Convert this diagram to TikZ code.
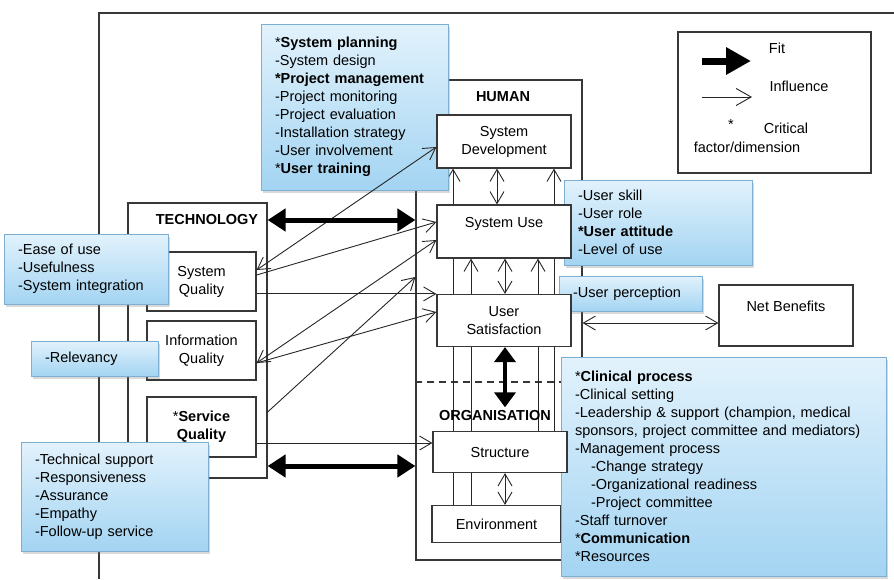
\documentclass[tikz,border=0pt]{standalone}
\usepackage{fontspec}
\setmainfont{Liberation Sans}
\usetikzlibrary{arrows.meta,positioning,shadows,backgrounds}

\definecolor{lineGray}{RGB}{55,55,55}
\definecolor{noteTop}{RGB}{226,242,252}
\definecolor{noteBottom}{RGB}{163,212,242}
\definecolor{noteLine}{RGB}{125,175,210}

\begin{document}
\begin{tikzpicture}[x=1pt,y=-1pt,on grid,
    font=\fontsize{14.5}{18}\selectfont,
    frame/.style={draw=lineGray,line width=1.2pt},
    box/.style={draw=lineGray,line width=1.2pt,fill=white,align=center,inner sep=0pt},
    note/.style={draw=noteLine,line width=0.8pt,top color=noteTop,bottom color=noteBottom,
        drop shadow={shadow xshift=2pt,shadow yshift=-3pt,opacity=0.3},
        align=left,inner xsep=14pt,inner ysep=0pt},
    head/.style={font=\fontsize{14.5}{18}\selectfont\bfseries},
    infl/.style={draw=black!85,line width=0.9pt,-{Straight Barb[length=12pt,width=14pt]}},
    infl2/.style={draw=black!85,line width=0.9pt,{Straight Barb[length=12pt,width=14pt]}-{Straight Barb[length=12pt,width=14pt]}},
    fitarr/.style={draw=black,line width=5pt,{Triangle[length=18pt,width=22pt]}-{Triangle[length=18pt,width=22pt]}},
    vfitarr/.style={draw=black,line width=4pt,{Triangle[length=15pt,width=21pt]}-{Triangle[length=15pt,width=21pt]}}]
    \useasboundingbox (0,0) rectangle (894,579);

    \begin{scope}[on background layer]
    \draw[frame] (99,579) -- (99,13) -- (894,13);
    \node[frame,minimum width=139pt,minimum height=275pt] (tech)  at (197.5,340.5) {};
    \node[frame,minimum width=166pt,minimum height=480pt] (human) at (499,320)     {};
    \draw[frame,dash pattern=on 7pt off 5pt] ([yshift=-62pt]human.west) -- ([yshift=-62pt]human.east);
    \end{scope}

    \node[head] (techlbl)  at (207,220) {TECHNOLOGY};
    \node[head] (humanlbl) at (503,97)  {HUMAN};
    \node[head] (orglbl)   at (495,416) {ORGANISATION};

    \node[box,minimum width=109pt,minimum height=59pt] (sysq)  at (201.5,281.5)     {System\\Quality};
    \node[box,minimum width=109pt,minimum height=59pt] (infq)  [below=69pt of sysq] {Information\\Quality};
    \node[box,minimum width=109pt,minimum height=60pt] (servq) [below=76.5pt of infq] {*\textbf{Service}\\\textbf{Quality}};
    \node[box,minimum width=129pt,minimum height=37pt] (env)   at (496.5,524)       {Environment};

    \node[note,text width=159pt,minimum height=166pt] (plan) at (354.5,107)
        {*\textbf{System planning}\\-System design\\\textbf{*Project management}\\-Project monitoring\\
         -Project evaluation\\-Installation strategy\\-User involvement\\{}*\textbf{User training}};
    \node[note,text width=136pt,minimum height=70pt] (ease) at (86,269)
        {-Ease of use\\-Usefulness\\-System integration};
    \node[note,text width=99pt,minimum height=35pt] (relev) at (94.5,358.5) {-Relevancy};
    \node[note,text width=159pt,minimum height=109pt] (servnote) at (114.5,496.5)
        {-Technical support\\-Responsiveness\\-Assurance\\-Empathy\\-Follow-up service};
    \node[note,text width=160pt,minimum height=85pt] (skill) at (658,222.5)
        {-User skill\\-User role\\\textbf{*User attitude}\\-Level of use};
    \node[note,text width=115pt,minimum height=35pt] (percep) at (630.5,293.5) {-User perception};
    \node[note,text width=297pt,minimum height=219pt] (clin) at (723.5,466.5)
        {*\textbf{Clinical process}\\-Clinical setting\\-Leadership \& support (champion, medical\\
         sponsors, project committee and mediators)\\-Management process\\
         \hspace*{16pt}-Change strategy\\\hspace*{16pt}-Organizational readiness\\\hspace*{16pt}-Project committee\\
         -Staff turnover\\{}*\textbf{Communication}\\{}*Resources};

    \node[box,minimum width=134pt,minimum height=53pt] (sd)     at (504,141.5)    {System\\Development};
    \node[box,minimum width=134pt,minimum height=53pt] (su)     [below=90pt of sd] {System Use\\\mbox{}};
    \node[box,minimum width=134pt,minimum height=52pt] (us)     [below=89pt of su] {User\\Satisfaction};
    \node[box,minimum width=134pt,minimum height=41pt] (struct) at (500,452)      {Structure};
    \node[box,minimum width=134pt,minimum height=61pt] (netb)   at (786,315.5)    {Net Benefits\\\mbox{}};

    \begin{scope}[on background layer]
    \coordinate (sdL) at ([xshift=-51pt]sd.south);
    \coordinate (sdR) at ([xshift=50pt]sd.south);
    \coordinate (suL) at ([xshift=-33pt]su.south);
    \coordinate (suR) at ([xshift=34pt]su.south);
    \coordinate (seM) at ([xshift=5pt]struct.south);
    \draw[infl] (sdL |- env.north) -- (sdL);
    \draw[infl] (suL |- env.north) -- (suL);
    \draw[infl] (suR |- struct.north) -- (suR);
    \draw[infl] (sdR |- struct.north) -- (sdR);
    \draw[infl2] ([xshift=-7pt]su.north) -- ([xshift=-7pt]sd.south);
    \draw[infl2] ([xshift=1pt]us.north) -- ([xshift=1pt]su.south);
    \draw[infl2] (seM |- env.north) -- (seM);
    \end{scope}

    \node[frame,minimum width=193pt,minimum height=141pt] (legend) at (774.5,102.5) {};
    \coordinate (fitS)  at (702,61);
    \coordinate (fitE)  at (751,61);
    \coordinate (inflS) at (702,97);
    \coordinate (inflE) at (752,97);
    \draw[draw=black,line width=7pt,-{Triangle[length=25pt,width=26pt]}] (fitS) -- (fitE);
    \draw[draw=black!85,line width=0.9pt,-{Straight Barb[length=15pt,width=17pt]}] (inflS) -- (inflE);
    \node (fitlbl)  at (777,48)  {Fit};
    \node (infllbl) at (799,86)  {Influence};
    \node (star)    at (731,125) {*};
    \node (critlbl) at (786,128) {Critical};
    \node (factlbl) at (747,147) {factor/dimension};

    \coordinate (sqOut)  at ([yshift=-16pt]servq.east);
    \coordinate (orgFit) at ([yshift=-125.5pt]tech.east);
    \coordinate (usFit)  at ([xshift=1pt]us.south);
    \coordinate (nbIn)   at ([yshift=-7.5pt]netb.west);
    \draw[infl2] ([yshift=11.5pt]sysq.east) -- ([yshift=-5.5pt]sd.west);
    \draw[infl]  ([yshift=6.5pt]sysq.east) -- ([yshift=9.5pt]su.west);
    \draw[infl]  (sysq.east |- us.north west) -- (us.north west);
    \draw[infl2] ([yshift=-12.5pt]infq.east) -- ([yshift=-8.5pt]su.west);
    \draw[infl]  ([yshift=-12.5pt]infq.east) -- ([yshift=8.5pt]us.west);
    \draw[infl]  ([yshift=-71.5pt]tech.east) -- ([yshift=43pt]human.west);
    \draw[infl]  (sqOut) -- (sqOut -| struct.west);
    \draw[infl2] (human.east |- nbIn) -- (nbIn);
    \draw[fitarr] (tech.east |- techlbl) -- (human.west |- techlbl);
    \draw[fitarr] (orgFit) -- (orgFit -| human.west);
    \draw[vfitarr] (usFit) -- (usFit |- orglbl.north);
\end{tikzpicture}
\end{document}
